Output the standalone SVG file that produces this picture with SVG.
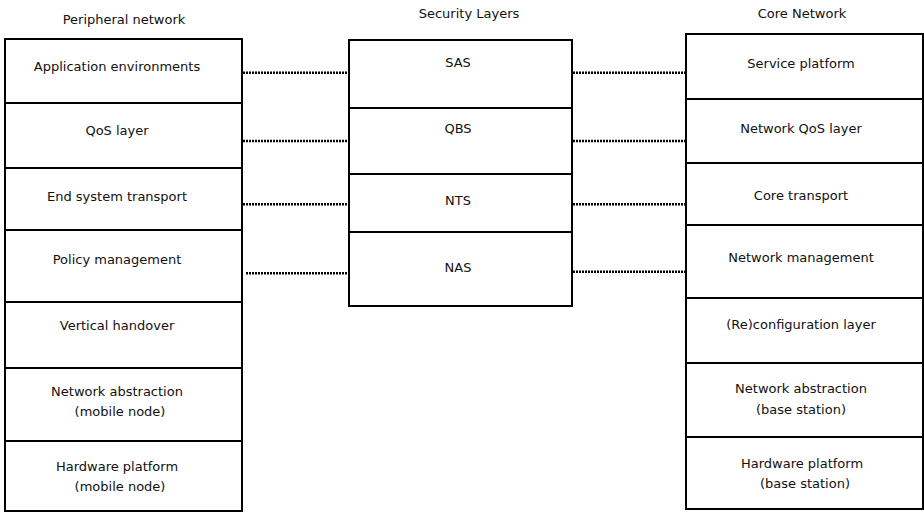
<svg xmlns="http://www.w3.org/2000/svg" width="924" height="512" viewBox="0 0 924 512">
<style>
.box{fill:#fff;stroke:#000;stroke-width:2}
text{font-family:"DejaVu Sans",sans-serif;font-size:13px;fill:#111;text-anchor:middle}
.dot{stroke:#000;stroke-width:2.5;stroke-dasharray:2 1;fill:none}
</style>
<rect width="924" height="512" fill="#fff"/>
<g id="titles">
<text x="124" y="24">Peripheral network</text>
<text x="469" y="18">Security Layers</text>
<text x="802" y="18">Core Network</text>
</g>
<g id="peripheral">
<g id="p1"><rect class="box" x="5" y="39" width="237" height="64"/><text x="117" y="71">Application environments</text></g>
<g id="p2"><rect class="box" x="5" y="103" width="237" height="65"/><text x="117" y="135">QoS layer</text></g>
<g id="p3"><rect class="box" x="5" y="168" width="237" height="62"/><text x="117" y="201">End system transport</text></g>
<g id="p4"><rect class="box" x="5" y="230" width="237" height="72"/><text x="117" y="264">Policy management</text></g>
<g id="p5"><rect class="box" x="5" y="302" width="237" height="66"/><text x="117" y="330">Vertical handover</text></g>
<g id="p6"><rect class="box" x="5" y="368" width="237" height="73"/><text x="117" y="396">Network abstraction</text><text x="120" y="416">(mobile node)</text></g>
<g id="p7"><rect class="box" x="5" y="441" width="237" height="70"/><text x="117" y="471">Hardware platform</text><text x="120" y="491">(mobile node)</text></g>
</g>
<g id="security">
<g id="s1"><rect class="box" x="349" y="40" width="223" height="68"/><text x="458" y="67">SAS</text></g>
<g id="s2"><rect class="box" x="349" y="108" width="223" height="66"/><text x="458" y="133">QBS</text></g>
<g id="s3"><rect class="box" x="349" y="174" width="223" height="58"/><text x="458" y="205">NTS</text></g>
<g id="s4"><rect class="box" x="349" y="232" width="223" height="74"/><text x="458" y="272">NAS</text></g>
</g>
<g id="core">
<g id="c1"><rect class="box" x="686" y="34" width="237" height="65"/><text x="801" y="68">Service platform</text></g>
<g id="c2"><rect class="box" x="686" y="99" width="237" height="64"/><text x="801" y="133">Network QoS layer</text></g>
<g id="c3"><rect class="box" x="686" y="163" width="237" height="62"/><text x="801" y="200">Core transport</text></g>
<g id="c4"><rect class="box" x="686" y="225" width="237" height="73"/><text x="801" y="262">Network management</text></g>
<g id="c5"><rect class="box" x="686" y="298" width="237" height="65"/><text x="801" y="329">(Re)configuration layer</text></g>
<g id="c6"><rect class="box" x="686" y="363" width="237" height="74"/><text x="801" y="393">Network abstraction</text><text x="801" y="414">(base station)</text></g>
<g id="c7"><rect class="box" x="686" y="437" width="237" height="72"/><text x="802" y="468">Hardware platform</text><text x="805" y="488">(base station)</text></g>
</g>
<g id="connectors">
<line class="dot" x1="243" y1="72.7" x2="349" y2="72.7"/>
<line class="dot" x1="243" y1="141" x2="349" y2="141"/>
<line class="dot" x1="243" y1="204.3" x2="349" y2="204.3"/>
<line class="dot" x1="246" y1="273.3" x2="349" y2="273.3"/>
<line class="dot" x1="573" y1="72.7" x2="685" y2="72.7"/>
<line class="dot" x1="573" y1="141" x2="685" y2="141"/>
<line class="dot" x1="573" y1="204.3" x2="685" y2="204.3"/>
<line class="dot" x1="573" y1="271.7" x2="685" y2="271.7"/>
</g>
</svg>
